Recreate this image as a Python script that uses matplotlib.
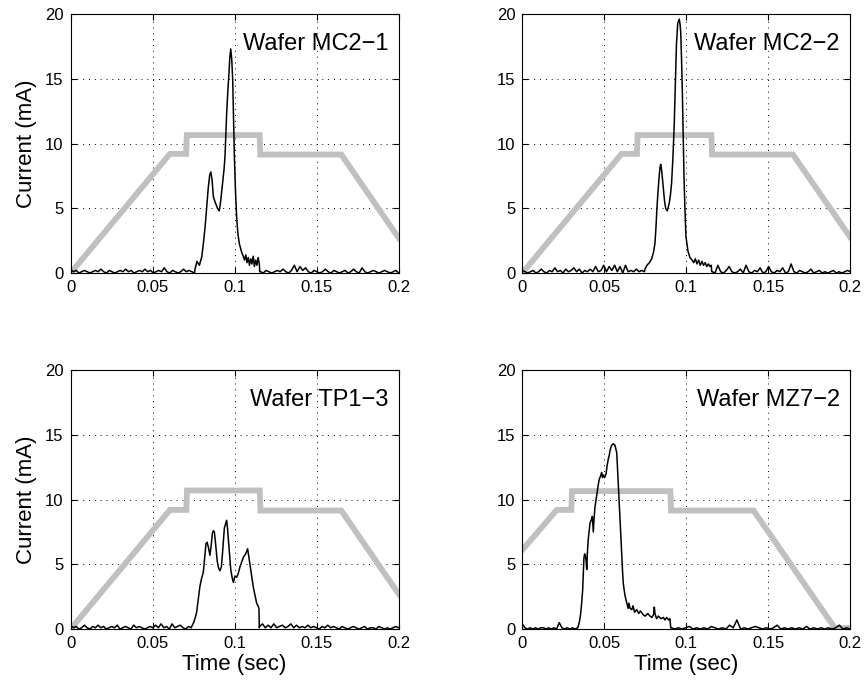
import numpy as np
import matplotlib
matplotlib.use("Agg")
import matplotlib.pyplot as plt

plt.rcParams['font.family'] = ['Liberation Sans', 'DejaVu Sans']

# ---- dados: tensao aplicada (curva cinza, escalada) ----
ramp_t = {
    "MC2-1": [0.0, 0.0605, 0.0704, 0.0708, 0.1152, 0.1156, 0.165, 0.2],
    "MC2-2": [0.0, 0.0605, 0.0699, 0.0703, 0.1153, 0.1157, 0.165, 0.2],
    "TP1-3": [0.0, 0.0605, 0.0705, 0.0709, 0.1153, 0.1157, 0.165, 0.2],
    "MZ7-2": [0.0, 0.0210, 0.0299, 0.0303, 0.0903, 0.0907, 0.141, 0.1907, 0.2],
}
ramp_v = {
    "MC2-1": [0.0, 9.2, 9.2, 10.65, 10.65, 9.15, 9.15, 2.7],
    "MC2-2": [0.0, 9.2, 9.2, 10.65, 10.65, 9.15, 9.15, 2.75],
    "TP1-3": [0.0, 9.2, 9.2, 10.7, 10.7, 9.15, 9.15, 2.7],
    "MZ7-2": [6.1, 9.2, 9.2, 10.65, 10.65, 9.15, 9.15, 0.05, 0.1],
}

# ---- dados: corrente medida (curva preta) ----
# ruido de fundo antes do pico
pre_end = {"MC2-1": 0.0755, "MC2-2": 0.0745, "TP1-3": 0.0735, "MZ7-2": 0.0338}
pre_i = {
    "MC2-1": [0.3, 0.1, 0.2, 0.0, 0.1, 0.2, 0.1, 0.0, 0.1, 0.2, 0.1, 0.3, 0.1, 0.0, 0.2, 0.1,
              0.0, 0.1, 0.2, 0.1, 0.3, 0.1, 0.2, 0.0, 0.1, 0.2, 0.1, 0.3, 0.1, 0.2, 0.0, 0.1,
              0.2, 0.1, 0.4, 0.1, 0.0, 0.2, 0.1, 0.0, 0.1, 0.3, 0.1, 0.2, 0.1, 0.0],
    "MC2-2": [0.2, 0.1, 0.0, 0.1, 0.2, 0.0, 0.1, 0.3, 0.1, 0.0, 0.2, 0.1, 0.4, 0.1, 0.2, 0.0,
              0.3, 0.1, 0.2, 0.4, 0.1, 0.3, 0.0, 0.2, 0.1, 0.3, 0.1, 0.5, 0.1, 0.2, 0.6, 0.1,
              0.5, 0.2, 0.6, 0.1, 0.5, 0.0, 0.6, 0.1, 0.2, 0.1, 0.3, 0.1, 0.2, 0.1],
    "TP1-3": [0.3, 0.1, 0.2, 0.0, 0.1, 0.3, 0.1, 0.0, 0.2, 0.1, 0.3, 0.1, 0.2, 0.0, 0.1, 0.2,
              0.1, 0.3, 0.0, 0.1, 0.2, 0.1, 0.0, 0.3, 0.1, 0.2, 0.1, 0.0, 0.1, 0.2, 0.1, 0.3,
              0.1, 0.4, 0.1, 0.2, 0.0, 0.4, 0.1, 0.2, 0.3, 0.1, 0.0, 0.2, 0.1],
    "MZ7-2": [0.4, 0.1, 0.0, 0.1, 0.0, 0.1, 0.0, 0.1, 0.1, 0.0, 0.1, 0.0, 0.1, 0.0, 0.5, 0.1,
              0.0, 0.1, 0.0, 0.1, 0.0, 0.1],
}
# pico (tempo, corrente)
peak_t = {
    "MC2-1": [0.0758, 0.0770, 0.0785, 0.0800, 0.0810, 0.0820, 0.0830, 0.0839, 0.0848, 0.0855,
              0.0862, 0.0870, 0.0880, 0.0886, 0.0895, 0.0900, 0.0906, 0.0915, 0.0927, 0.0935,
              0.0941, 0.0946, 0.0951, 0.0958, 0.0965, 0.0970, 0.0976, 0.0982, 0.0988, 0.0993,
              0.0998, 0.1005, 0.1012, 0.1020, 0.1028, 0.1040, 0.1052, 0.1060, 0.1068, 0.1075,
              0.1083, 0.1090, 0.1098, 0.1105, 0.1113, 0.1120, 0.1128, 0.1135, 0.1143, 0.1150,
              0.1153],
    "MC2-2": [0.0748, 0.0760, 0.0775, 0.0789, 0.0800, 0.0809, 0.0815, 0.0820, 0.0827, 0.0834,
              0.0840, 0.0844, 0.0850, 0.0856, 0.0860, 0.0867, 0.0874, 0.0884, 0.0890, 0.0896,
              0.0903, 0.0910, 0.0918, 0.0926, 0.0933, 0.0940, 0.0948, 0.0957, 0.0962, 0.0966,
              0.0971, 0.0976, 0.0981, 0.0986, 0.0992, 0.0998, 0.1010, 0.1022, 0.1035, 0.1045,
              0.1055, 0.1065, 0.1075, 0.1085, 0.1095, 0.1105, 0.1115, 0.1125, 0.1135, 0.1145,
              0.1152, 0.1155],
    "TP1-3": [0.0738, 0.0750, 0.0760, 0.0768, 0.0778, 0.0788, 0.0798, 0.0809, 0.0817, 0.0825,
              0.0832, 0.0840, 0.0849, 0.0857, 0.0864, 0.0870, 0.0876, 0.0882, 0.0888, 0.0894,
              0.0902, 0.0910, 0.0919, 0.0926, 0.0932, 0.0937, 0.0944, 0.0951, 0.0956, 0.0961,
              0.0968, 0.0976, 0.0984, 0.0992, 0.1002, 0.1012, 0.1022, 0.1032, 0.1043, 0.1055,
              0.1067, 0.1073, 0.1079, 0.1086, 0.1093, 0.1103, 0.1114, 0.1124, 0.1134, 0.1142,
              0.1148, 0.1150],
    "MZ7-2": [0.0341, 0.0349, 0.0356, 0.0362, 0.0368, 0.0372, 0.0376, 0.0380, 0.0384, 0.0389,
              0.0393, 0.0397, 0.0402, 0.0408, 0.0413, 0.0420, 0.0427, 0.0433, 0.0438, 0.0443,
              0.0450, 0.0457, 0.0464, 0.0470, 0.0477, 0.0484, 0.0489, 0.0494, 0.0502, 0.0511,
              0.0517, 0.0524, 0.0530, 0.0535, 0.0545, 0.0555, 0.0565, 0.0576, 0.0584, 0.0592,
              0.0600, 0.0606, 0.0612, 0.0616, 0.0626, 0.0637, 0.0645, 0.0650, 0.0657, 0.0668,
              0.0675, 0.0685, 0.0698, 0.0710, 0.0720, 0.0738, 0.0750, 0.0765, 0.0779, 0.0790,
              0.0800, 0.0805, 0.0809, 0.0819, 0.0830, 0.0845, 0.0860, 0.0870, 0.0880, 0.0893,
              0.0900, 0.0905],
}
peak_i = {
    "MC2-1": [0.3, 0.9, 0.6, 1.3, 2.4, 3.6, 5.2, 6.6, 7.6, 7.8,
              7.2, 5.9, 5.5, 5.3, 5.0, 4.9, 4.8, 5.6, 7.0, 8.0,
              9.0, 10.6, 12.3, 14.0, 15.4, 16.6, 17.3, 16.5, 14.9, 12.0,
              9.0, 6.3, 4.3, 3.0, 2.3, 1.7, 1.3, 1.0, 1.4, 0.8,
              1.2, 0.6, 1.1, 0.7, 1.3, 0.5, 1.0, 0.6, 1.2, 0.7,
              0.1],
    "MC2-2": [0.3, 0.6, 0.8, 1.1, 1.6, 2.3, 3.5, 4.8, 6.2, 7.4,
              8.2, 8.4, 7.9, 7.1, 6.6, 5.6, 5.0, 4.8, 5.1, 5.4,
              6.0, 6.9, 8.8, 11.3, 14.5, 17.7, 19.3, 19.6, 19.2, 18.6,
              16.5, 13.9, 10.6, 7.4, 4.8, 2.8, 1.7, 1.2, 1.0, 0.8,
              1.1, 0.7, 1.0, 0.6, 0.9, 0.6, 0.8, 0.5, 0.7, 0.5,
              0.6, 0.1],
    "TP1-3": [0.2, 0.5, 0.9, 1.3, 2.3, 3.3, 3.9, 4.4, 5.5, 6.6,
              6.7, 6.3, 5.7, 6.5, 7.4, 7.6, 7.5, 6.8, 6.0, 5.2,
              4.7, 4.5, 4.8, 5.9, 7.0, 7.8, 8.1, 8.4, 7.8, 7.0,
              5.8, 4.6, 4.0, 3.6, 4.1, 4.0, 4.3, 4.8, 5.2, 5.6,
              5.8, 6.0, 6.2, 5.6, 5.0, 4.2, 3.2, 2.6, 2.0, 1.8,
              1.6, 0.1],
    "MZ7-2": [0.2, 0.6, 1.2, 2.0, 3.0, 4.3, 5.5, 5.8, 5.7, 5.3,
              4.6, 5.9, 6.9, 7.6, 8.2, 8.4, 8.7, 7.5, 8.6, 9.4,
              10.0, 10.6, 11.2, 11.6, 11.8, 12.1, 11.7, 11.9, 11.7, 12.0,
              12.6, 13.1, 13.4, 13.8, 14.2, 14.3, 14.2, 13.6, 11.5, 9.4,
              7.3, 5.6, 4.3, 3.5, 2.6, 2.0, 1.6, 2.0, 1.6, 1.5,
              1.8, 1.3, 1.5, 1.2, 1.4, 1.1, 1.0, 1.2, 1.0, 0.9,
              1.1, 1.7, 1.2, 0.8, 1.0, 0.8, 0.9, 0.7, 0.9, 0.7,
              0.8, 0.1],
}
# ruido de fundo depois do pico
post_start = {"MC2-1": 0.1157, "MC2-2": 0.1158, "TP1-3": 0.1152, "MZ7-2": 0.0907}
post_i = {
    "MC2-1": [0.1, 0.0, 0.2, 0.1, 0.0, 0.1, 0.2, 0.1, 0.3, 0.1, 0.0, 0.2, 0.6, 0.1, 0.5, 0.2,
              0.4, 0.1, 0.0, 0.2, 0.1, 0.0, 0.1, 0.3, 0.1, 0.0, 0.2, 0.1, 0.0, 0.1, 0.2, 0.0,
              0.1, 0.3, 0.1, 0.0, 0.4, 0.1, 0.0, 0.1, 0.2, 0.1, 0.0, 0.1, 0.2, 0.1, 0.0, 0.1,
              0.2, 0.0],
    "MC2-2": [0.1, 0.0, 0.6, 0.1, 0.0, 0.2, 0.5, 0.1, 0.0, 0.1, 0.3, 0.0, 0.6, 0.1, 0.0, 0.2,
              0.1, 0.4, 0.0, 0.1, 0.5, 0.1, 0.0, 0.2, 0.1, 0.4, 0.0, 0.1, 0.7, 0.1, 0.0, 0.2,
              0.1, 0.0, 0.1, 0.3, 0.0, 0.1, 0.2, 0.0, 0.1, 0.0, 0.1, 0.2, 0.0, 0.1, 0.0, 0.1,
              0.2, 0.1],
    "TP1-3": [0.2, 0.4, 0.1, 0.3, 0.1, 0.4, 0.1, 0.2, 0.3, 0.1, 0.2, 0.4, 0.1, 0.3, 0.1, 0.2,
              0.1, 0.3, 0.1, 0.2, 0.1, 0.0, 0.2, 0.1, 0.3, 0.1, 0.2, 0.1, 0.0, 0.2, 0.1, 0.0,
              0.1, 0.2, 0.1, 0.0, 0.1, 0.2, 0.0, 0.1, 0.1, 0.0, 0.2, 0.1, 0.0, 0.1, 0.0, 0.1,
              0.2, 0.1],
    "MZ7-2": [0.1, 0.0, 0.1, 0.0, 0.1, 0.2, 0.0, 0.1, 0.0, 0.1, 0.0, 0.2, 0.1, 0.0, 0.1, 0.0,
              0.3, 0.1, 0.7, 0.0, 0.1, 0.0, 0.1, 0.2, 0.1, 0.0, 0.1, 0.0, 0.1, 0.3, 0.0, 0.1,
              0.0, 0.1, 0.0, 0.1, 0.0, 0.2, 0.0, 0.1, 0.0, 0.1, 0.0, 0.1, 0.0, 0.1, 0.3, 0.0,
              0.1, 0.0],
}

wafers = ["MC2-1", "MC2-2", "TP1-3", "MZ7-2"]
xticks = [0, 0.05, 0.1, 0.15, 0.2]
xticklabels = ["0", "0.05", "0.1", "0.15", "0.2"]
yticks = [0, 5, 10, 15, 20]

fig = plt.figure(figsize=(8.66, 6.86), dpi=100)

# posicoes dos eixos em fracao da figura
lefts = [0.0816, 0.6031, 0.0816, 0.6031]
bottoms = [0.602, 0.602, 0.083, 0.083]
w, h = 0.3788, 0.3776

for k, wf in enumerate(wafers):
    ax = fig.add_axes([lefts[k], bottoms[k], w, h])

    ax.plot(ramp_t[wf], ramp_v[wf], color="#c0c0c0", lw=4.2,
            solid_joinstyle="miter", zorder=2)

    t_pre = np.linspace(0, pre_end[wf], len(pre_i[wf]))
    t_post = np.linspace(post_start[wf], 0.2, len(post_i[wf]))
    t_all = np.concatenate([t_pre, peak_t[wf], t_post])
    i_all = np.concatenate([pre_i[wf], peak_i[wf], post_i[wf]])
    ax.plot(t_all, i_all, color="k", lw=1.1, zorder=3)

    ax.set_xlim(0, 0.2)
    ax.set_ylim(0, 20)
    ax.set_xticks(xticks)
    ax.set_xticklabels(xticklabels)
    ax.set_yticks(yticks)
    ax.tick_params(direction="in", top=True, right=True, length=4,
                   labelsize=12, pad=5, width=0.8)
    ax.grid(True, color="k", linestyle=(0, (1, 5)), lw=0.7)
    for sp in ax.spines.values():
        sp.set_linewidth(0.8)

    ax.text(0.1935, 17.7, "Wafer " + wf.replace("-", "\u2212"), ha="right",
            va="center", fontsize=17, zorder=4)

    if k % 2 == 0:
        ax.set_ylabel("Current (mA)", fontsize=16, labelpad=6)
    if k >= 2:
        ax.set_xlabel("Time (sec)", fontsize=16, labelpad=2)

fig.savefig("out.png", dpi=100)
